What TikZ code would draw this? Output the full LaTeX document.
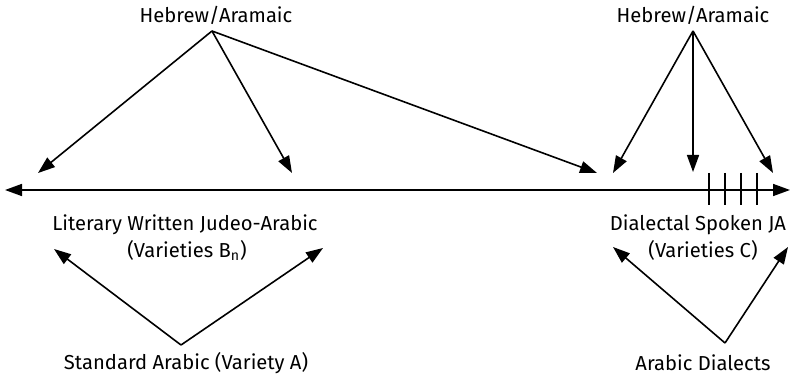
\documentclass[tikz,border=0pt]{standalone}
\usepackage{fontspec}
\setmainfont{Fira Sans}
\usetikzlibrary{arrows.meta}

\begin{document}
\begin{tikzpicture}[
  x=0.5pt,y=-0.5pt,
  >={Triangle[length=8.5pt,width=6pt]},
  link/.style={line width=.8pt,->},
  every node/.style={font=\fontsize{10.1}{12}\selectfont,inner sep=0pt}
]
  \useasboundingbox (0,0) rectangle (795,378);
  % sources and varieties
  \node (hebL) at (216,15) {Hebrew/Aramaic};
  \node (hebR) at (693,15) {Hebrew/Aramaic};
  \node (lit) at (185,225) {Literary Written Judeo-Arabic};
  \node (litvar) at (187,250) {(Varieties B\textsubscript{n})};
  \node (dial) at (698,225) {Dialectal Spoken JA};
  \node (dialvar) at (703,250) {(Varieties C)};
  \node (std) at (186,363) {Standard Arabic (Variety A)};
  \node (arab) at (703,363) {Arabic Dialects};
  % arrow origins and tips
  \coordinate (hebLo) at (212,31);
  \coordinate (hebRo) at (693,31);
  \coordinate (stdo) at (181,345);
  \coordinate (arabo) at (725,343);
  \coordinate (tip1) at (38,173);
  \coordinate (tip2) at (292,173);
  \coordinate (tip3) at (597,173);
  \coordinate (tip4) at (613,173);
  \coordinate (tip5) at (693,172);
  \coordinate (tip6) at (773,173);
  \coordinate (litL) at (54,249);
  \coordinate (litR) at (323,248);
  \coordinate (dialL) at (613,247);
  \coordinate (dialR) at (788,247);
  \coordinate (lineL) at (5,190);
  \coordinate (lineR) at (790,190);
  % the continuum
  \draw[line width=.8pt,<->] (lineL) -- (lineR);
  \foreach \tx in {709,725,741,757}
    \draw[line width=.8pt] (\tx,173) -- (\tx,205);
  % influences
  \draw[link] (hebLo) -- (tip1);
  \draw[link] (hebLo) -- (tip2);
  \draw[link] (hebLo) -- (tip3);
  \draw[link] (hebRo) -- (tip4);
  \draw[link] (hebRo) -- (tip5);
  \draw[link] (hebRo) -- (tip6);
  \draw[link] (stdo) -- (litL);
  \draw[link] (stdo) -- (litR);
  \draw[link] (arabo) -- (dialL);
  \draw[link] (arabo) -- (dialR);
\end{tikzpicture}
\end{document}
